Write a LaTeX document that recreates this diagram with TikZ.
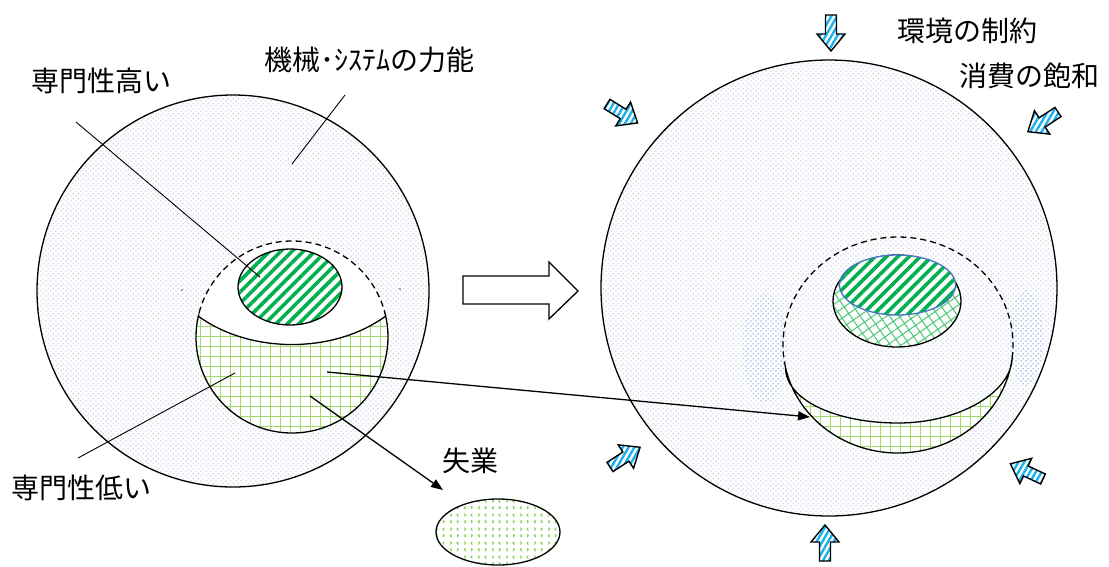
\documentclass[tikz,border=0pt]{standalone}
\usepackage{fontspec}
\newfontfamily\jp{Noto Sans CJK JP}
\usetikzlibrary{patterns.meta,arrows.meta}
\definecolor{dotc}{rgb}{0.62,0.67,0.80}
\definecolor{grn}{rgb}{0,0.69,0.31}
\definecolor{lgrn}{rgb}{0.62,0.86,0.42}
\definecolor{chevc}{rgb}{0.50,0.82,0.30}
\definecolor{brk}{rgb}{0.30,0.78,0.45}
\definecolor{skyb}{rgb}{0.10,0.69,0.94}
\definecolor{edgeb}{rgb}{0.27,0.45,0.77}
\definecolor{haze}{rgb}{0.45,0.68,0.95}
\tikzdeclarepattern{
  name=bgdots, type=uncolored,
  bounding box={(0pt,0pt) and (5pt,5pt)},
  tile size={(5pt,5pt)},
  code={\fill (1.25pt,1.25pt) circle (0.75pt); \fill (3.75pt,3.75pt) circle (0.75pt);}
}
\tikzdeclarepattern{
  name=chev, type=uncolored,
  bounding box={(0pt,0pt) and (14pt,14pt)},
  tile size={(14pt,14pt)},
  code={
    \draw[line width=1pt] (4pt,2pt)--(2.5pt,3.5pt)--(4pt,5pt);
    \draw[line width=1pt] (9.5pt,2pt)--(11pt,3.5pt)--(9.5pt,5pt);
    \draw[line width=1pt] (2.5pt,9pt)--(4pt,10.5pt)--(2.5pt,12pt);
    \draw[line width=1pt] (11pt,9pt)--(9.5pt,10.5pt)--(11pt,12pt);
  }
}
\tikzset{
  bg/.style={preaction={fill=white}, pattern=bgdots, pattern color=dotc, draw=black, line width=1.3pt},
  stripes/.style={preaction={fill=white}, pattern={Lines[angle=45,distance=8pt,line width=3.6pt]}, pattern color=grn},
  gridfill/.style={pattern={Hatch[angle=0,distance=10pt,line width=0.6pt]}, pattern color=lgrn},
  brick/.style={preaction={fill=white}, pattern={Hatch[angle=35,distance=8pt,line width=1pt]}, pattern color=brk},
  outline/.style={draw=black, line width=1.3pt},
  dashline/.style={draw=black, line width=1.3pt, dash pattern=on 6pt off 4pt},
  leader/.style={draw=black, line width=0.9pt},
  conn/.style={draw=black, line width=1.3pt, -{Triangle[length=12pt,width=9pt]}},
  lbl/.style={font=\jp\fontsize{28}{32}\selectfont, inner sep=0pt, anchor=base west},
  blockarrow/.pic={
    \path[preaction={fill=white}, pattern={Lines[angle=60,distance=5pt,line width=2.4pt]}, pattern color=skyb, draw=black, line width=1.4pt, line join=miter]
      (0,-5.5)--(19,-5.5)--(19,-14)--(36,0)--(19,14)--(19,5.5)--(0,5.5)--cycle;
  }
}
\begin{document}
\begin{tikzpicture}[x=1pt,y=-1pt]
\useasboundingbox (0,0) rectangle (1109,566);
\fill[white] (0,0) rectangle (1109,566);

% ---------- left circle ----------
\path[bg] (233,291) circle[radius=196];
\fill[white] (292,337) circle[radius=96];
\path[gridfill, preaction={fill=white}, outline]
  (292,337) ++(192.6:96) arc[start angle=192.6, end angle=-12.6, radius=96]
  .. controls (334,354) and (250,354) .. (198.3,316.1) -- cycle;
\path[dashline] (292,337) ++(-12.6:96) arc[start angle=-12.6, end angle=-167.4, radius=96];
\path[stripes, outline] (290,287) ellipse[x radius=52, y radius=38];
\fill[black!70] (182,290) circle[radius=0.9];
\fill[black!70] (400,289) circle[radius=0.9];

% leaders
\coordinate (hiA) at (76,122);  \coordinate (hiB) at (260,277);
\coordinate (mcA) at (345,95);  \coordinate (mcB) at (292,164);
\coordinate (loA) at (78,458);  \coordinate (loB) at (235,373);
\path[leader] (hiA) -- (hiB);
\path[leader] (mcA) -- (mcB);
\path[leader] (loA) -- (loB);

\node[lbl] (thi) at (31,91) {専門性高い};
\node[lbl] (tmc) at (264,70) {機械･ｼｽﾃﾑの力能};
\node[lbl] (tlo) at (11,498) {専門性低い};
\node[lbl] (tun) at (442,471) {失業};

% unemployment ellipse
\path[preaction={fill=white}, pattern=chev, pattern color=chevc, outline] (498,532) ellipse[x radius=62, y radius=33];
\coordinate (unA) at (310,396); \coordinate (unB) at (443,490);
\path[conn] (unA) -- (unB);

% hollow arrow
\path[draw=black, line width=1.3pt, fill=white, line join=miter]
  (463,276)--(549,276)--(549,262)--(578,291)--(549,319)--(549,304)--(463,304)--cycle;

% ---------- right circle ----------
\path[bg] (829,288) circle[radius=228];
\fill[pattern=bgdots, pattern color=haze] (765,348) ellipse[x radius=22, y radius=55];
\fill[pattern=bgdots, pattern color=haze] (1026,338) ellipse[x radius=17, y radius=48];
\def\cres{(898,345) ++(168:115 and 108) arc[start angle=168, end angle=7, x radius=115, y radius=108]
  .. controls (1011,392) and (960,423) .. (898,423)
  .. controls (836,423) and (785.5,400) .. (785.5,367.5) -- cycle}
\fill[white] \cres;
\begin{scope}
  \clip (700,388) rectangle (1100,470);
  \path[gridfill] \cres;
\end{scope}
\path[outline] \cres;
\path[dashline] (898,345) ++(7:115 and 108) arc[start angle=7, end angle=-192, x radius=115, y radius=108];
\path[brick, outline] (897,301) ellipse[x radius=64, y radius=46];
\path[stripes, draw=edgeb, line width=1.3pt] (897.5,285) ellipse[x radius=58, y radius=30];

% long arrow
\coordinate (trA) at (327,372); \coordinate (trB) at (810,417);
\path[conn] (trA) -- (trB);

% blue pressure arrows
\pic[rotate=-90] at (831,15) {blockarrow};
\pic[rotate=90] at (825,561) {blockarrow};
\pic[rotate=-31.7] at (607,104) {blockarrow};
\pic[rotate=-146.8] at (1058,112) {blockarrow};
\pic[rotate=33.3] at (610,467) {blockarrow};
\pic[rotate=155] at (1043,479) {blockarrow};

\node[lbl] (tenv) at (897,41) {環境の制約};
\node[lbl] (tcon) at (959,86) {消費の飽和};
\end{tikzpicture}
\end{document}
